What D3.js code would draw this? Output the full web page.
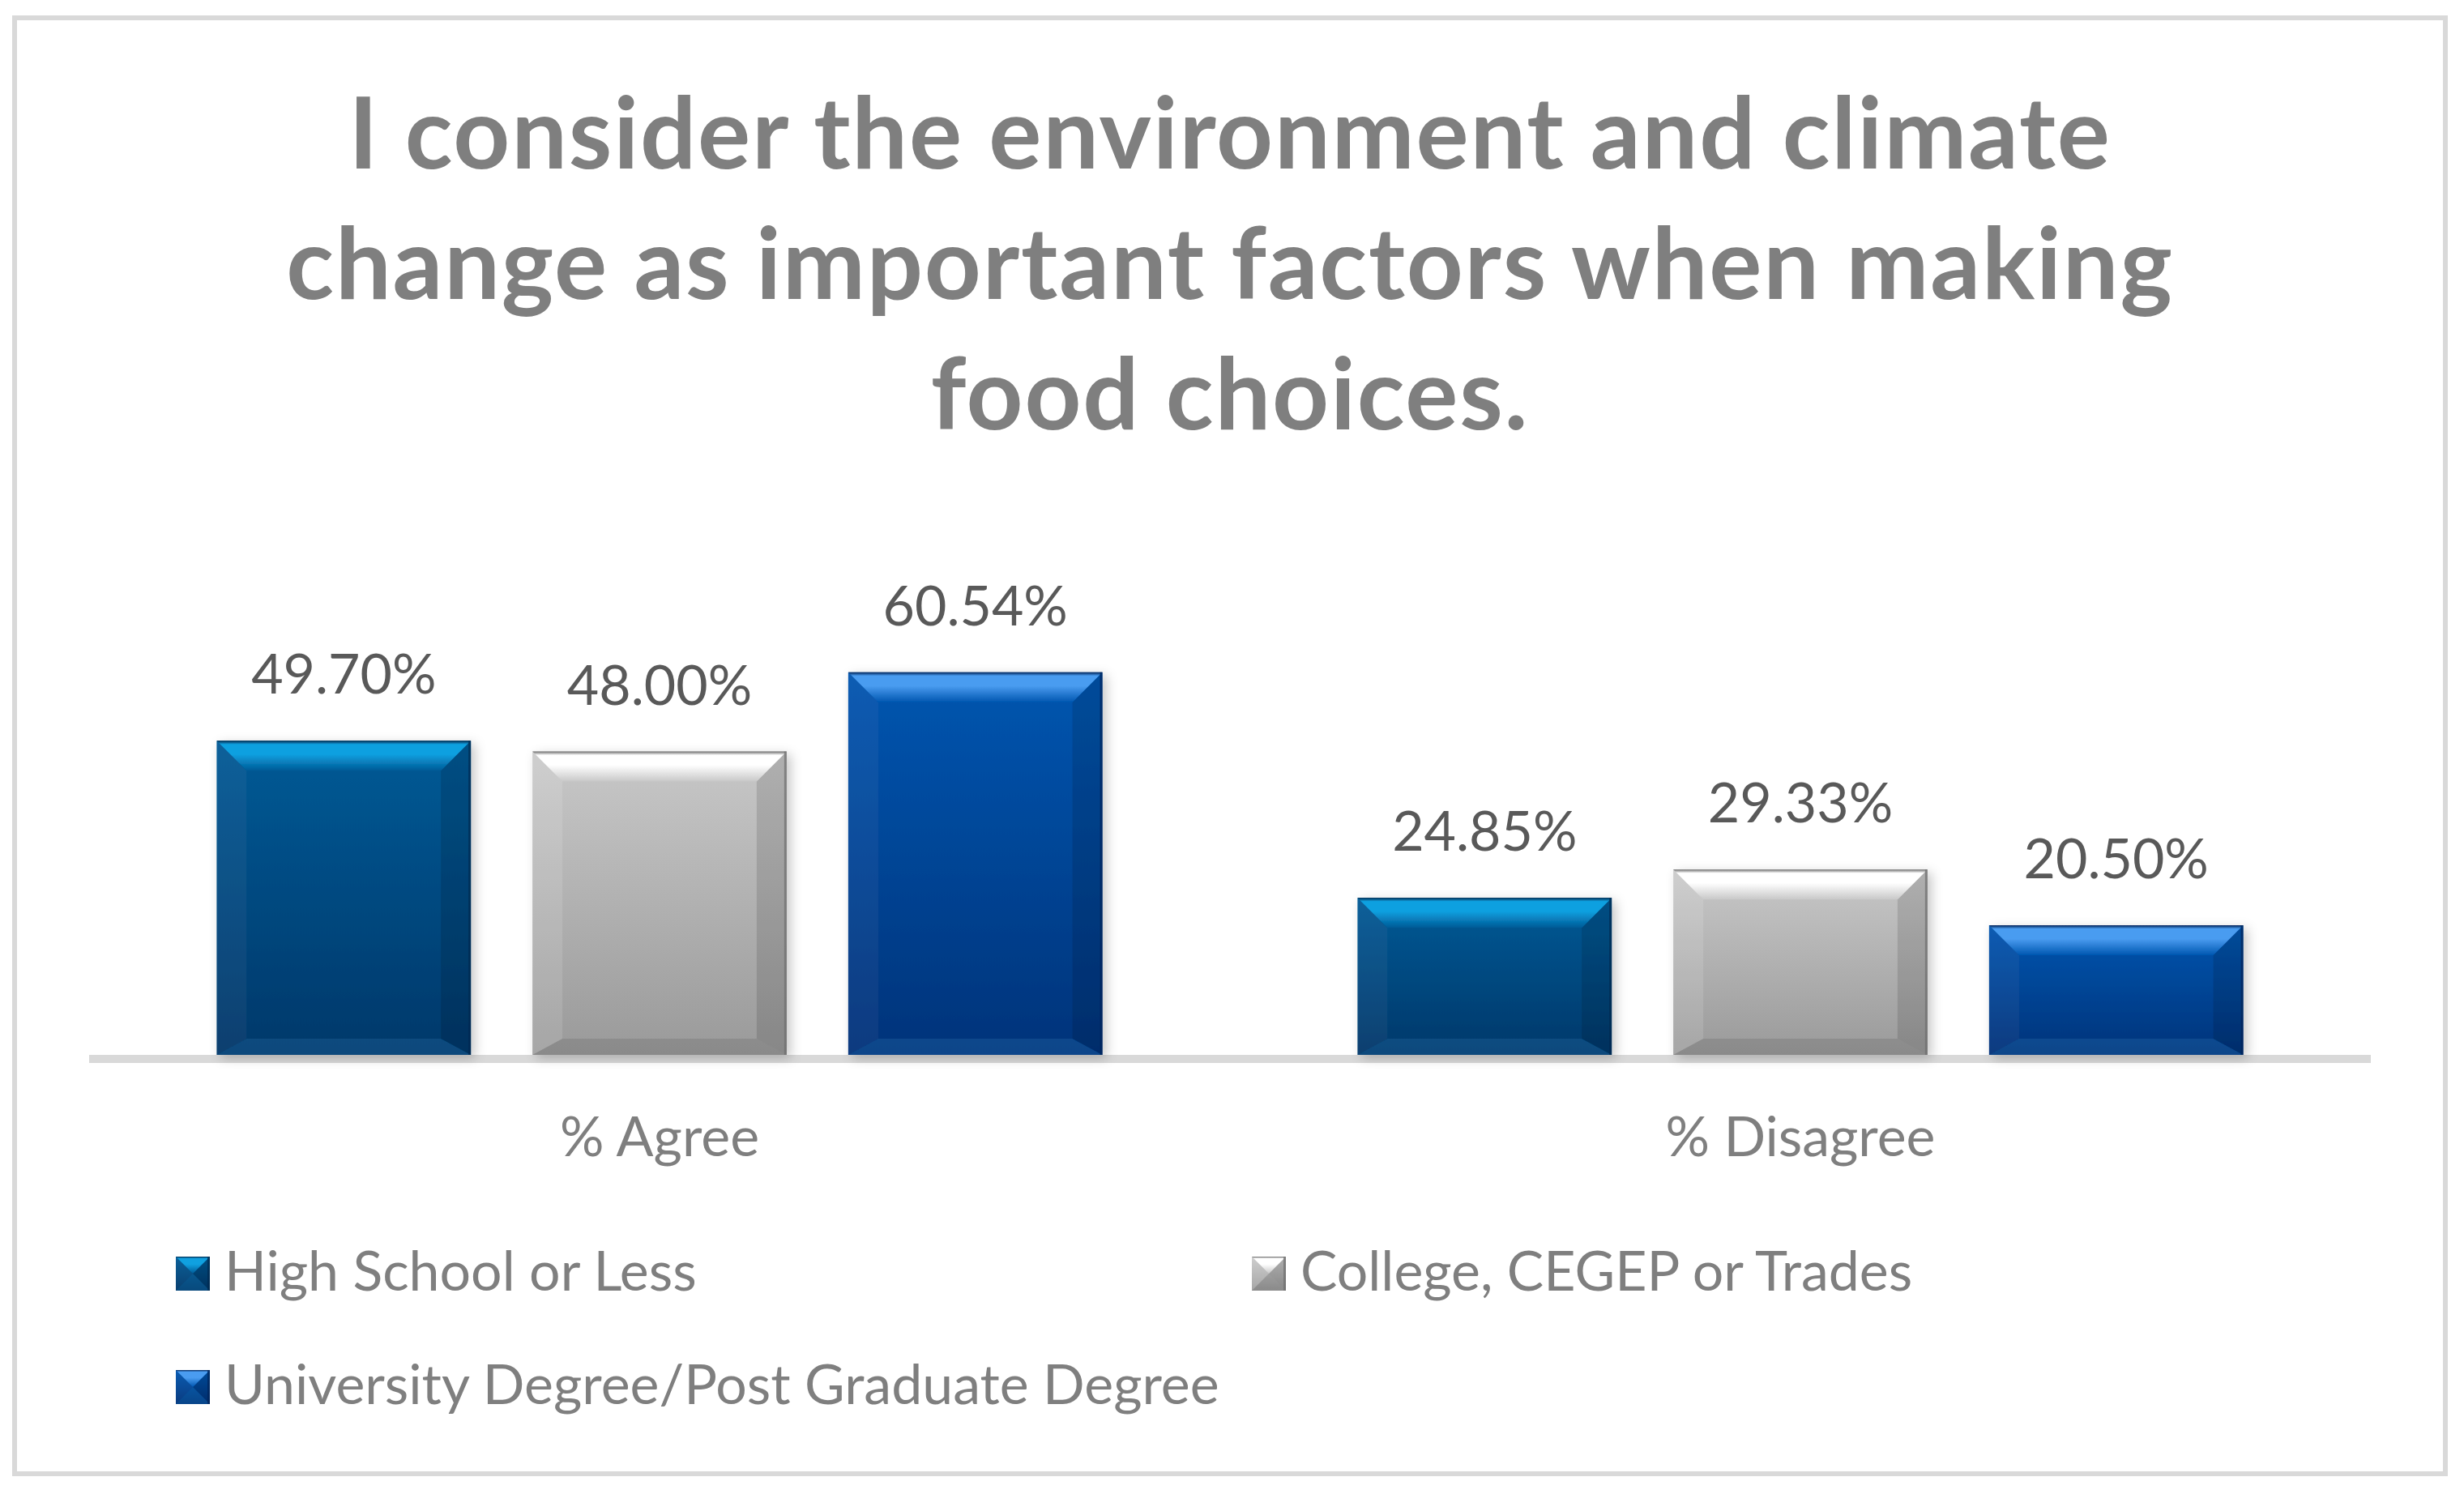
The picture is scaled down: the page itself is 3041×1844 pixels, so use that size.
<!DOCTYPE html>
<html lang="en">

<head>
    <meta charset="UTF-8">
    <script src='https://cdnjs.cloudflare.com/ajax/libs/d3/7.8.5/d3.min.js'></script>
    <title>Food choices chart</title>
    <style>
        body { margin: 0; background: #fff; }
        text { font-family: Lato, "Open Sans", sans-serif; }
    </style>
</head>

<body>
    <div id='plot'></div>
</body>

<script>
    // data
    var categories = ["% Agree", "% Disagree"];
    var seriesNames = ["High School or Less", "College, CEGEP or Trades", "University Degree/Post Graduate Degree"];
    var highSchool = [49.70, 24.85];
    var college = [48.00, 29.33];
    var university = [60.54, 20.50];
    var titleLines = ["I consider the environment and climate", "change as important factors when making", "food choices."];

    var seriesValues = [highSchool, college, university];

    // look of each series: body top/bottom, bevel highlight
    var looks = [
        { top: "#005a96", bottom: "#00386a", hi: "#10a0e0", edge: "#002a50" },
        { top: "#c8c8c8", bottom: "#9a9a9a", hi: "#ffffff", edge: "#6e6e6e" },
        { top: "#0056b0", bottom: "#00337a", hi: "#4a9cf0", edge: "#00245a" }
    ];

    var W = 3041, H = 1844;
    var plot = { left: 110, right: 2926, base: 1302 };

    var svg = d3.select("#plot")
        .append("svg")
        .attr("width", W)
        .attr("height", H);

    var defs = svg.append("defs");
    var shadow = defs.append("filter").attr("id", "shadow")
        .attr("x", "-10%").attr("y", "-10%").attr("width", "130%").attr("height", "130%");
    shadow.append("feDropShadow")
        .attr("dx", 5).attr("dy", 4).attr("stdDeviation", 7)
        .attr("flood-color", "#000").attr("flood-opacity", 0.22);

    looks.forEach(function (lk, i) {
        var g = defs.append("linearGradient").attr("id", "body" + i)
            .attr("x1", 0).attr("y1", 0).attr("x2", 0).attr("y2", 1);
        g.append("stop").attr("offset", "0%").attr("stop-color", lk.top);
        g.append("stop").attr("offset", "100%").attr("stop-color", lk.bottom);
        var t = defs.append("linearGradient").attr("id", "hi" + i)
            .attr("x1", 0).attr("y1", 0).attr("x2", 0).attr("y2", 1);
        t.append("stop").attr("offset", "0%").attr("stop-color", lk.edge);
        t.append("stop").attr("offset", "12%").attr("stop-color", lk.hi);
        t.append("stop").attr("offset", "45%").attr("stop-color", lk.hi);
        t.append("stop").attr("offset", "100%").attr("stop-color", lk.top);
    });

    // outer border
    svg.append("rect")
        .attr("x", 18).attr("y", 22)
        .attr("width", 3000).attr("height", 1797)
        .attr("fill", "#fff")
        .attr("stroke", "#d9d9d9")
        .attr("stroke-width", 6);

    // title
    svg.append("g").selectAll("text")
        .data(titleLines)
        .enter()
        .append("text")
        .attr("x", 1518)
        .attr("y", (d, i) => 208 + i * 161)
        .attr("text-anchor", "middle")
        .attr("font-size", 122)
        .attr("letter-spacing", 1.8)
        .attr("font-weight", "bold")
        .attr("fill", "#7f7f7f")
        .text(d => d);

    // scales
    var x0 = d3.scaleBand()
        .domain(categories)
        .range([plot.left, plot.right]);
    var x1 = d3.scaleBand()
        .domain(d3.range(seriesNames.length))
        .range([0, x0.bandwidth()])
        .paddingInner(0.195)
        .paddingOuter(0.404);
    var y = d3.scaleLinear()
        .domain([0, 70])
        .range([plot.base, plot.base - 546]);

    // beveled bar
    function bevelBar(g, x, yTop, w, h, i, b, bb) {
        var lk = looks[i];
        var yb = yTop + h;
        g.append("rect")
            .attr("x", x).attr("y", yTop).attr("width", w).attr("height", h)
            .attr("fill", "url(#body" + i + ")");
        // left side
        g.append("path")
            .attr("d", d3.line()([[x, yTop], [x + b, yTop + b], [x + b, yb - bb], [x, yb]]))
            .attr("fill", "#fff").attr("opacity", i == 1 ? 0.12 : 0.04);
        // right side
        g.append("path")
            .attr("d", d3.line()([[x + w, yTop], [x + w - b, yTop + b], [x + w - b, yb - bb], [x + w, yb]]))
            .attr("fill", "#000").attr("opacity", 0.12);
        // bottom
        g.append("path")
            .attr("d", d3.line()([[x, yb], [x + b, yb - bb], [x + w - b, yb - bb], [x + w, yb]]))
            .attr("fill", i == 1 ? "#000" : "#2a9ad0").attr("opacity", i == 1 ? 0.1 : 0.18);
        // top highlight
        g.append("path")
            .attr("d", d3.line()([[x, yTop], [x + w, yTop], [x + w - b, yTop + b], [x + b, yTop + b]]))
            .attr("fill", "url(#hi" + i + ")");
        // thin dark outline on the right edge
        g.append("rect")
            .attr("x", x + w - 3).attr("y", yTop).attr("width", 3).attr("height", h)
            .attr("fill", lk.edge).attr("opacity", 0.7);
    }

    // axis line
    svg.append("rect")
        .attr("x", plot.left).attr("y", plot.base)
        .attr("width", plot.right - plot.left).attr("height", 10)
        .attr("fill", "#d9d9d9");

    // bars
    var groups = svg.append("g").selectAll("g")
        .data(categories)
        .enter()
        .append("g")
        .attr("transform", d => "translate(" + x0(d) + ",0)");

    groups.each(function (cat, ci) {
        var g = d3.select(this);
        seriesValues.forEach(function (vals, si) {
            var v = vals[ci];
            var bar = g.append("g").attr("filter", "url(#shadow)");
            bevelBar(bar, x1(si), y(v), x1.bandwidth(), y(0) - y(v), si, 37, 20);
            g.append("text")
                .attr("x", x1(si) + x1.bandwidth() / 2)
                .attr("y", y(v) - 58)
                .attr("text-anchor", "middle")
                .attr("font-size", 68)
                .attr("fill", "#595959")
                .text(v.toFixed(2) + "%");
        });
    });

    // category labels
    svg.append("g").selectAll("text")
        .data(categories)
        .enter()
        .append("text")
        .attr("x", d => x0(d) + x0.bandwidth() / 2)
        .attr("y", 1427)
        .attr("text-anchor", "middle")
        .attr("font-size", 68)
        .attr("fill", "#7f7f7f")
        .text(d => d);

    // legend
    var legendPos = [[217, 1551], [1545, 1551], [217, 1691]];
    var legend = svg.append("g").selectAll("g")
        .data(seriesNames)
        .enter()
        .append("g")
        .attr("transform", (d, i) => "translate(" + legendPos[i][0] + "," + legendPos[i][1] + ")");
    legend.each(function (name, i) {
        var g = d3.select(this);
        bevelBar(g, 0, 0, 42, 42, i, 21, 21);
        g.append("text")
            .attr("x", 60)
            .attr("y", 42)
            .attr("font-size", 68)
            .attr("fill", "#7f7f7f")
            .text(name);
    });
</script>

</html>
